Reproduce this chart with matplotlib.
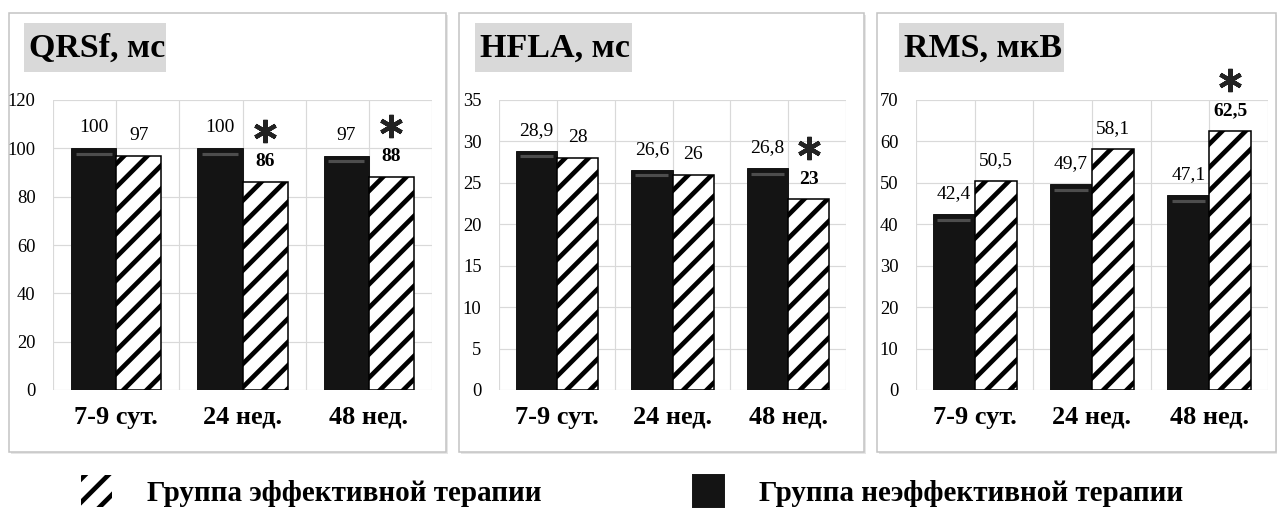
import matplotlib
matplotlib.use("Agg")
import matplotlib.pyplot as plt
from matplotlib.patches import Rectangle, Patch
from matplotlib.transforms import offset_copy
import numpy as np

plt.rcParams['font.family'] = ['Liberation Serif', 'DejaVu Serif']
plt.rcParams['hatch.linewidth'] = 2.4
plt.rcParams['hatch.color'] = 'black'

# ---------------- data ----------------
categories = ['7-9 сут.', '24 нед.', '48 нед.']
titles = ['QRSf, мс', 'HFLA, мс', 'RMS, мкВ']

qrsf_ineff = [100, 100, 97]
qrsf_eff = [97, 86, 88]
qrsf_sig = [False, True, True]

hfla_ineff = [28.9, 26.6, 26.8]
hfla_eff = [28, 26, 23]
hfla_sig = [False, False, True]

rms_ineff = [42.4, 49.7, 47.1]
rms_eff = [50.5, 58.1, 62.5]
rms_sig = [False, False, True]

yticks_qrsf = [0, 20, 40, 60, 80, 100, 120]
yticks_hfla = [0, 5, 10, 15, 20, 25, 30, 35]
yticks_rms = [0, 10, 20, 30, 40, 50, 60, 70]

legend_eff = 'Группа эффективной терапии'
legend_ineff = 'Группа неэффективной терапии'

# ---------------- layout ----------------
W, H, DPI = 1277, 511, 140
fig = plt.figure(figsize=(W / DPI, H / DPI), dpi=DPI)
fig.patch.set_facecolor('white')

def fx(px):
    return px / W

def fy(py):
    return 1 - py / H

panels = [
    dict(box=(9, 13, 446, 452), ax=(53, 100, 432, 390), tbox=(24, 23, 166, 72),
         ineff=qrsf_ineff, eff=qrsf_eff, sig=qrsf_sig, ticks=yticks_qrsf, title=titles[0]),
    dict(box=(459, 13, 864, 452), ax=(499, 100, 846, 390), tbox=(475, 23, 632, 72),
         ineff=hfla_ineff, eff=hfla_eff, sig=hfla_sig, ticks=yticks_hfla, title=titles[1]),
    dict(box=(877, 13, 1276, 452), ax=(916, 100, 1268, 390), tbox=(899, 23, 1064, 72),
         ineff=rms_ineff, eff=rms_eff, sig=rms_sig, ticks=yticks_rms, title=titles[2]),
]

def fmt(v):
    return ('%g' % v).replace('.', ',')

bw = 0.357
grid_c = '#d9d9d9'
black_c = '#141414'

for p in panels:
    x0, y0, x1, y1 = p['box']
    # panel shadow + frame
    fig.add_artist(Rectangle((fx(x0 + 2), fy(y1 + 2)), fx(x1 - x0), (y1 - y0) / H,
                             transform=fig.transFigure, facecolor='#e6e6e6',
                             edgecolor='none', zorder=0))
    fig.add_artist(Rectangle((fx(x0), fy(y1)), fx(x1 - x0), (y1 - y0) / H,
                             transform=fig.transFigure, facecolor='white',
                             edgecolor='#c4c4c4', linewidth=0.8, zorder=0.5))
    # title box
    tx0, ty0, tx1, ty1 = p['tbox']
    fig.add_artist(Rectangle((fx(tx0), fy(ty1)), fx(tx1 - tx0), (ty1 - ty0) / H,
                             transform=fig.transFigure, facecolor='#d9d9d9',
                             edgecolor='none', zorder=1))
    fig.text(fx(tx0 + 5), fy((ty0 + ty1) / 2 + 1), p['title'], fontsize=17.5,
             fontweight='bold', va='center', ha='left', zorder=2)

    ax0, ay0, ax1, ay1 = p['ax']
    ax = fig.add_axes([fx(ax0), fy(ay1), fx(ax1 - ax0), (ay1 - ay0) / H])
    ax.set_zorder(3)
    ax.patch.set_alpha(0)
    x = np.arange(len(categories))
    ax.bar(x - bw / 2, p['ineff'], width=bw, color=black_c, edgecolor=black_c,
           linewidth=0.5, zorder=3)
    ax.bar(x + bw / 2, p['eff'], width=bw, facecolor='white', edgecolor='black',
           hatch='//', linewidth=0.8, zorder=3)
    # bevel highlight near the top of the dark bars
    hl_tr = offset_copy(ax.transData, fig=fig, x=0, y=-3.0, units='points')
    ax.hlines(p['ineff'], x - bw + bw * 0.1, x - bw * 0.1,
              colors='#4d4d4d', linewidth=1.6, transform=hl_tr, zorder=4)
    ticks = p['ticks']
    ax.set_ylim(ticks[0], ticks[-1])
    ax.set_xlim(-0.5, len(categories) - 0.5)
    ax.set_yticks(ticks)
    ax.set_xticks(x)
    ax.set_xticks(np.arange(len(categories) + 1) - 0.5, minor=True)
    ax.set_xticklabels(categories, fontsize=13.5, fontweight='bold')
    ax.tick_params(axis='y', length=0, pad=9, labelsize=9.5)
    ax.tick_params(axis='x', which='both', length=0, pad=8)
    ax.grid(True, axis='both', which='major', color=grid_c, linewidth=0.6, zorder=0)
    ax.grid(True, axis='x', which='minor', color=grid_c, linewidth=0.6, zorder=0)
    for s in ax.spines.values():
        s.set_visible(False)

    lab_tr = offset_copy(ax.transData, fig=fig, x=0, y=10.5, units='points')
    star_tr = offset_copy(ax.transData, fig=fig, x=0, y=26.5, units='points')
    for i in range(len(categories)):
        ax.text(x[i] - bw / 2, p['ineff'][i], fmt(p['ineff'][i]), transform=lab_tr,
                ha='center', va='center', fontsize=10, zorder=5)
        bold = p['sig'][i]
        ax.text(x[i] + bw / 2, p['eff'][i], fmt(p['eff'][i]), transform=lab_tr,
                ha='center', va='center', fontsize=10,
                fontweight='bold' if bold else 'normal', zorder=5)
        if bold:
            ax.plot([x[i] + bw / 2], [p['eff'][i]], transform=star_tr,
                    marker=(6, 2, 0), markersize=12, markeredgewidth=2.2,
                    color='#222222', clip_on=False, zorder=5)

handles = [Patch(facecolor='white', edgecolor='black', linewidth=0, hatch='//'),
           Patch(facecolor=black_c, edgecolor=black_c)]
fig.legend(handles, [legend_eff, legend_ineff], loc='center',
           bbox_to_anchor=(fx(632), fy(491)), ncol=2, frameon=False,
           prop=dict(size=15, weight='bold'), handlelength=1.05,
           handleheight=1.3, handletextpad=1.2, columnspacing=5.2)

fig.savefig('out.png', dpi=DPI, facecolor='white')
